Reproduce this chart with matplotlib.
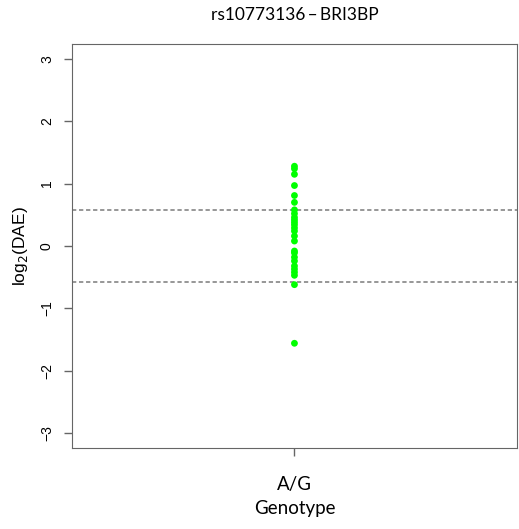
import matplotlib
matplotlib.use("Agg")
import matplotlib.pyplot as plt
import numpy as np

# log2 DAE values for the single genotype group
genotype = "A/G"
dae_values = [1.28, 1.24, 1.15, 0.97, 0.81, 0.70, 0.58, 0.52, 0.46, 0.42,
              0.38, 0.34, 0.29, 0.24, 0.16, 0.08, -0.08, -0.11, -0.18,
              -0.24, -0.32, -0.37, -0.42, -0.47, -0.62, -1.56]
threshold = 0.585
yticks = [-3, -2, -1, 0, 1, 2, 3]

fig = plt.figure(figsize=(5.19, 5.29), dpi=100)
ax = fig.add_axes([0.1387, 0.1531, 0.8573, 0.7637])

ax.scatter([1] * len(dae_values), dae_values, s=24, color="#00ff00",
           edgecolors="none", zorder=3)
ax.axhline(threshold, color="#7a7a7a", lw=1.1, ls=(0, (2.8, 1.8)))
ax.axhline(-threshold, color="#7a7a7a", lw=1.1, ls=(0, (2.8, 1.8)))

ax.set_xlim(0.5, 1.5)
ax.set_ylim(-3.24, 3.24)
ax.set_xticks([1])
ax.set_xticklabels([genotype], family="Lato", fontsize=13.5)
ax.set_yticks(yticks)
ax.set_yticklabels([str(t).replace("-", "\u2212") for t in yticks],
                   rotation=90, va="center", family="Liberation Sans",
                   fontsize=10)
ax.tick_params(axis="both", length=6, color="#666666", width=1)
ax.tick_params(axis="x", pad=14)
ax.tick_params(axis="y", pad=7)
for s in ax.spines.values():
    s.set_color("#666666")

ax.set_xlabel("Genotype", family="Lato", fontsize=13.5, labelpad=5)
ax.set_ylabel("log$_2$(DAE)", family="Liberation Sans", fontsize=12.5,
              labelpad=7)
ax.set_title("rs10773136\u2009\u2013\u2009BRI3BP", family="Lato",
             fontsize=12.5, pad=17)

fig.savefig("out.png", dpi=100)
